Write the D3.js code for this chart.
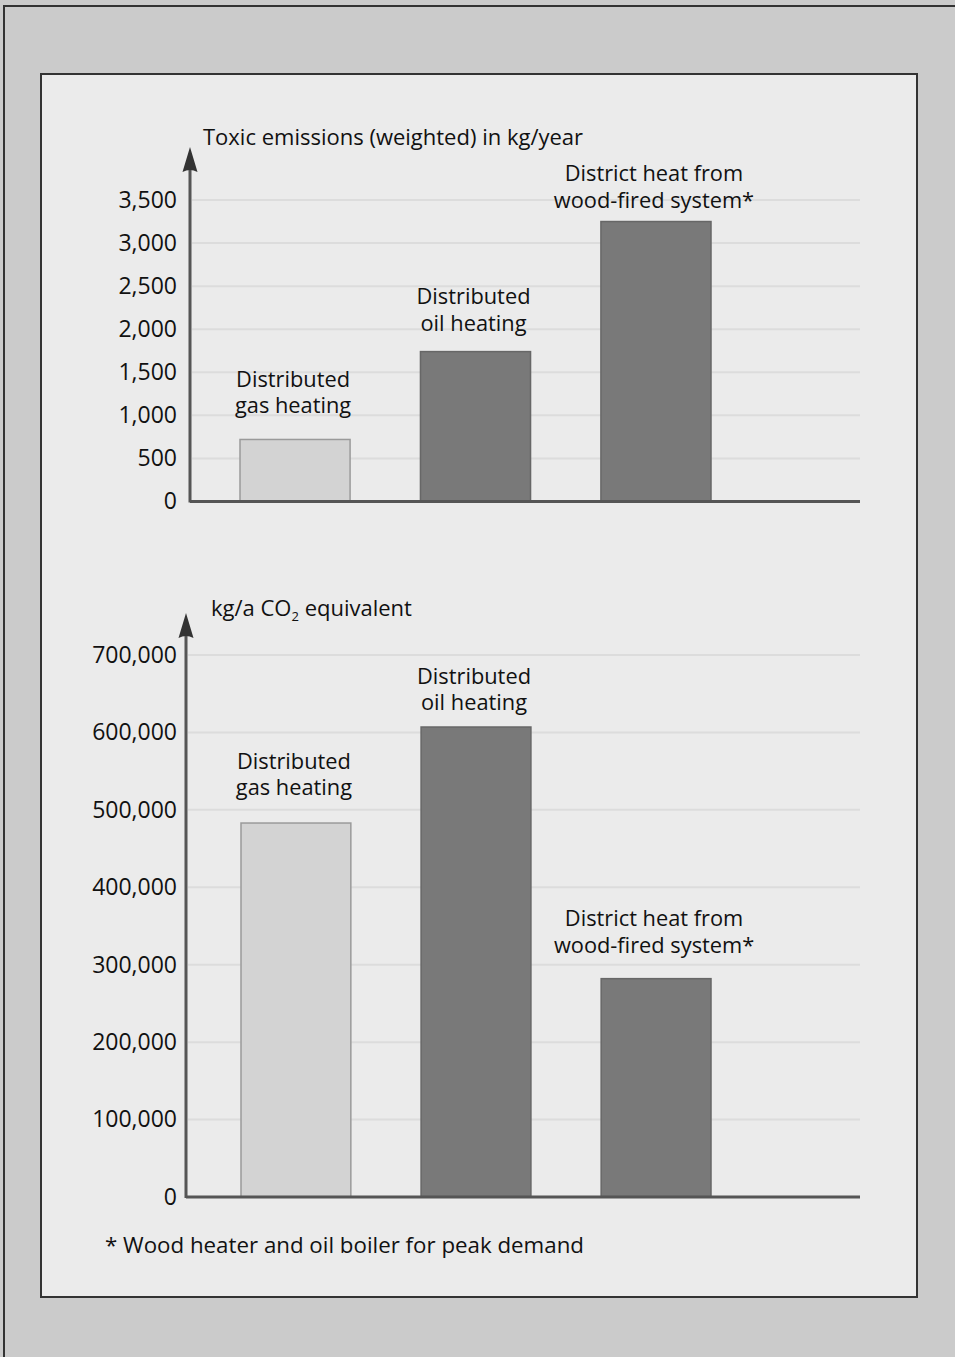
<!DOCTYPE html>
<html><head><meta charset="utf-8">
<script src="https://cdn.jsdelivr.net/npm/d3@7"></script>
<style>
html,body{margin:0;padding:0;background:#cbcbcb;}
svg{display:block;}
text{font-family:"Open Sans","Noto Sans",sans-serif;fill:#111;}
</style></head>
<body>
<script>
// ---- data ----
const categories = ["gas", "oil", "wood"];
const labelLines = [["Distributed", "gas heating"], ["Distributed", "oil heating"], ["District heat from", "wood-fired system*"]];
const toxicValues = [720, 1740, 3250];
const co2Values = [483000, 607000, 282000];
const toxicTicks = [0, 500, 1000, 1500, 2000, 2500, 3000, 3500];
const co2Ticks = [0, 100000, 200000, 300000, 400000, 500000, 600000, 700000];
const toxicTitle = "Toxic emissions (weighted) in kg/year";
const footnote = "* Wood heater and oil boiler for peak demand";

const W = 955, H = 1357;
const svg = d3.select("body").append("svg").attr("width", W).attr("height", H);

// outer frame
svg.append("rect").attr("x", 0).attr("y", 0).attr("width", W).attr("height", H).attr("fill", "#cbcbcb");
svg.append("path").attr("d", `M4,${H} L4,6 L${W},6`).attr("fill", "none").attr("stroke", "#333").attr("stroke-width", 2);
// inner panel
svg.append("rect").attr("x", 41).attr("y", 74).attr("width", 876).attr("height", 1223)
  .attr("fill", "#ebebeb").attr("stroke", "#333").attr("stroke-width", 2);

const fills = ["#d3d3d3", "#797979", "#797979"];
const strokes = ["#9a9a9a", "#676767", "#676767"];
const fmt = d3.format(",");

function drawChart(cfg) {
  const g = svg.append("g");
  const y = d3.scaleLinear().domain([0, cfg.max]).range([cfg.y0, cfg.yTop]);
  const x = d3.scaleBand().domain(categories).range(cfg.barRange).paddingInner(0.39).paddingOuter(0);
  // gridlines
  g.selectAll("line.grid").data(cfg.ticks.filter(t => t > 0)).enter().append("line")
    .attr("x1", cfg.xAxis + 2).attr("x2", cfg.xEnd)
    .attr("y1", d => y(d)).attr("y2", d => y(d))
    .attr("stroke", "#dcdcdc").attr("stroke-width", 2);
  // tick labels via axis
  const ax = g.append("g").attr("transform", `translate(${cfg.labelX},0)`)
    .call(d3.axisLeft(y).tickValues(cfg.ticks).tickFormat(fmt).tickSize(0).tickPadding(0));
  ax.select(".domain").remove();
  ax.selectAll("text").attr("font-size", 23).attr("fill", "#111")
    .attr("font-family", "'Open Sans','Noto Sans',sans-serif");
  // bars
  g.selectAll("rect.bar").data(cfg.values).enter().append("rect")
    .attr("x", (d, i) => x(categories[i]))
    .attr("width", x.bandwidth())
    .attr("y", d => y(d))
    .attr("height", d => y(0) - y(d))
    .attr("fill", (d, i) => fills[i])
    .attr("stroke", (d, i) => strokes[i]).attr("stroke-width", 1.5);
  // bar labels
  cfg.values.forEach((v, i) => {
    const cx = x(categories[i]) + x.bandwidth() / 2 - 2;
    const t = g.append("text").attr("text-anchor", "middle").attr("font-size", 21.8).attr("x", cx);
    labelLines[i].forEach((s, k) => {
      t.append("tspan").attr("x", cx)
        .attr("y", y(v) - cfg.labelGaps[i] - (1 - k) * 26.5).text(s);
    });
  });
  // axes
  g.append("line").attr("x1", cfg.xAxis).attr("x2", cfg.xEnd).attr("y1", cfg.y0).attr("y2", cfg.y0)
    .attr("stroke", "#555").attr("stroke-width", 3);
  g.append("line").attr("x1", cfg.xAxis).attr("x2", cfg.xAxis).attr("y1", cfg.y0 + 1).attr("y2", cfg.arrowTip + 15)
    .attr("stroke", "#555").attr("stroke-width", 3);
  const a = cfg.arrowTip, cx = cfg.xAxis;
  g.append("path").attr("d", `M${cx},${a} L${cx + 7.5},${a + 25} Q${cx},${a + 21} ${cx - 7.5},${a + 25} Z`)
    .attr("fill", "#333");
  return g;
}

const g1 = drawChart({ values: toxicValues, ticks: toxicTicks, max: 3500, y0: 501.5, yTop: 200,
  xAxis: 190, xEnd: 860, labelX: 177, arrowTip: 147, barRange: [240, 711], labelGaps: [26, 21, 14] });
g1.append("text").attr("x", 203).attr("y", 145).attr("font-size", 22).text(toxicTitle);

const g2 = drawChart({ values: co2Values, ticks: co2Ticks, max: 700000, y0: 1197, yTop: 655,
  xAxis: 186, xEnd: 860, labelX: 177, arrowTip: 613, barRange: [241, 711], labelGaps: [28, 17, 26] });
const t2 = g2.append("text").attr("x", 211).attr("y", 616).attr("font-size", 22);
t2.append("tspan").text("kg/a CO");
t2.append("tspan").attr("font-size", 13).attr("dy", 5).text("2");
t2.append("tspan").attr("dy", -5).text(" equivalent");

svg.append("text").attr("x", 105).attr("y", 1253).attr("font-size", 22.3).text(footnote);
</script>
</body></html>
